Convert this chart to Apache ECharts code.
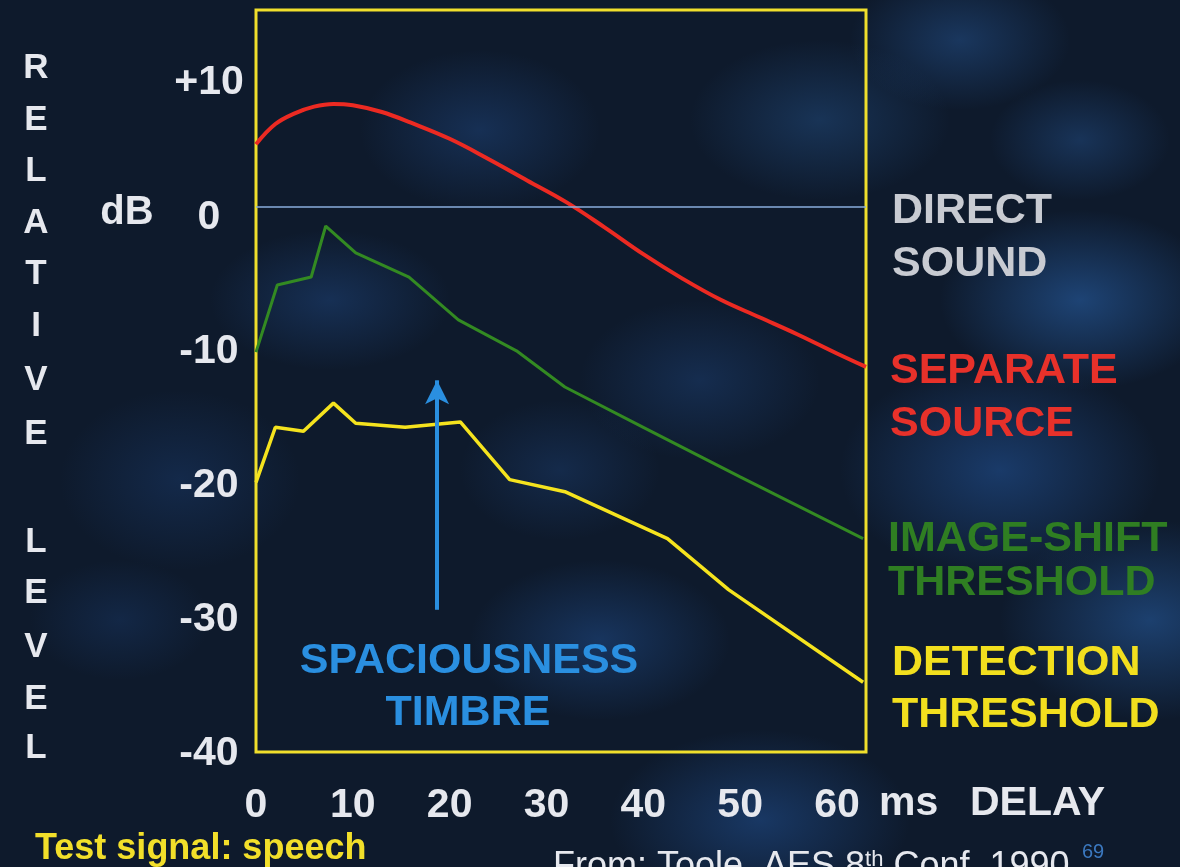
<!DOCTYPE html>
<html>
<head>
<meta charset="utf-8">
<script src="https://cdn.jsdelivr.net/npm/echarts@6/dist/echarts.min.js"></script>
<style>
html,body{margin:0;padding:0;}
#c{width:1180px;height:867px;
background:
radial-gradient(ellipse 140px 90px at 1080px 300px, rgba(40,95,165,0.6), rgba(40,95,165,0) 100%),
radial-gradient(ellipse 160px 110px at 1000px 470px, rgba(35,85,155,0.55), rgba(35,85,155,0) 100%),
radial-gradient(ellipse 150px 100px at 1150px 620px, rgba(40,95,165,0.55), rgba(40,95,165,0) 100%),
radial-gradient(ellipse 110px 70px at 960px 40px, rgba(40,90,155,0.45), rgba(40,90,155,0) 100%),
radial-gradient(ellipse 90px 60px at 1080px 140px, rgba(40,90,155,0.4), rgba(40,90,155,0) 100%),
radial-gradient(ellipse 130px 80px at 820px 120px, rgba(40,90,150,0.4), rgba(40,90,150,0) 100%),
radial-gradient(ellipse 120px 80px at 480px 130px, rgba(35,80,145,0.4), rgba(35,80,145,0) 100%),
radial-gradient(ellipse 130px 80px at 600px 640px, rgba(35,85,155,0.45), rgba(35,85,155,0) 100%),
radial-gradient(ellipse 120px 70px at 330px 300px, rgba(35,80,145,0.4), rgba(35,80,145,0) 100%),
radial-gradient(ellipse 120px 90px at 180px 480px, rgba(30,70,130,0.35), rgba(30,70,130,0) 100%),
radial-gradient(ellipse 150px 90px at 760px 820px, rgba(35,85,155,0.5), rgba(35,85,155,0) 100%),
radial-gradient(ellipse 120px 80px at 700px 380px, rgba(35,80,145,0.35), rgba(35,80,145,0) 100%),
radial-gradient(ellipse 100px 70px at 560px 470px, rgba(35,80,145,0.3), rgba(35,80,145,0) 100%),
radial-gradient(ellipse 90px 60px at 120px 620px, rgba(30,70,130,0.3), rgba(30,70,130,0) 100%),
#0e1a2c;}
</style>
</head>
<body>
<div id="c"></div>
<script>
// ---- data ----
var xTicks = [0, 10, 20, 30, 40, 50, 60];
var yTicks = [-40, -30, -20, -10, 0, 10];

var sepX = [0, 2, 4, 6, 8, 10, 13, 16, 20, 24, 28, 32, 36, 40, 44, 48, 52, 56, 60, 63];
var sepY = [4.7, 6.2, 7.0, 7.5, 7.7, 7.6, 7.1, 6.3, 5.1, 3.6, 2.0, 0.4, -1.5, -3.5, -5.3, -6.9, -8.2, -9.5, -10.9, -11.9];

var imgX = [0, 2.2, 5.7, 7.2, 10.3, 15.8, 20.9, 26.9, 31.9, 40, 50, 62.7];
var imgY = [-10.8, -5.8, -5.2, -1.4, -3.4, -5.2, -8.4, -10.7, -13.4, -16.4, -20.1, -24.7];

var detX = [0, 2.0, 4.9, 8.0, 10.3, 15.4, 21.1, 26.2, 31.9, 42.5, 48.8, 62.7];
var detY = [-20.5, -16.4, -16.7, -14.6, -16.1, -16.4, -16.0, -20.3, -21.2, -24.7, -28.5, -35.4];

var arrowX = 18.7;
var arrowFrom = -30.0;
var arrowTo = -12.9;

function pairs(xs, ys) { return xs.map(function (x, i) { return [x, ys[i]]; }); }

var FONT = '"Liberation Sans", Arial, sans-serif';
var chart = echarts.init(document.getElementById('c'), null, {renderer: 'canvas'});

var leftLetters = ['R','E','L','A','T','I','V','E','L','E','V','E','L'];
var leftYs = [68, 120, 171, 223, 274, 326, 380, 434, 542, 593, 647, 699, 748];

var graphics = [];
leftLetters.forEach(function (ch, i) {
  graphics.push({type: 'text', x: 36, y: leftYs[i], style: {text: ch, fill: '#e6e8ee', font: 'bold 35px ' + FONT, align: 'center', verticalAlign: 'middle'}});
});
function txt(t, x, y, color, size, align, weight) {
  graphics.push({type: 'text', x: x, y: y, style: {text: t, fill: color, font: (weight || 'bold') + ' ' + size + 'px ' + FONT, align: align || 'left', verticalAlign: 'middle'}});
}
txt('dB', 127, 213, '#e6e8ee', 40, 'center');
txt('ms', 879, 804, '#e6e8ee', 41, 'left');
txt('DELAY', 970, 804, '#e6e8ee', 41, 'left');
txt('DIRECT', 892, 211, '#c8cbd2', 43);
txt('SOUND', 892, 264, '#c8cbd2', 43);
txt('SEPARATE', 890, 371, '#e8312a', 43);
txt('SOURCE', 890, 424, '#e8312a', 43);
txt('IMAGE-SHIFT', 888, 539, '#2f7e22', 43);
txt('THRESHOLD', 888, 583, '#2f7e22', 43);
txt('DETECTION', 892, 663, '#f2df1e', 43);
txt('THRESHOLD', 892, 715, '#f2df1e', 43);
txt('SPACIOUSNESS', 469, 661, '#2a8fe0', 43, 'center');
txt('TIMBRE', 468, 713, '#2a8fe0', 43, 'center');
txt('Test signal: speech', 35, 849, '#f2df2a', 36, 'left');
graphics.push({type: 'text', x: 553, y: 867, style: {
  text: 'From: Toole, AES 8{sup|th} Conf. 1990',
  fill: '#e6e8ee', font: '36px ' + FONT, align: 'left', verticalAlign: 'middle',
  rich: {sup: {fontSize: 22, fill: '#e6e8ee', fontFamily: FONT, verticalAlign: 'top', padding: [0, 0, 14, 0]}}
}});
txt('69', 1093, 852, '#3b78bf', 20, 'center', 'normal');

var option = {
  backgroundColor: 'transparent',
  animation: false,
  textStyle: {fontFamily: FONT},
  grid: {left: 256, right: 314, top: 10, bottom: 115, show: true, borderColor: '#f0df2c', borderWidth: 3, backgroundColor: 'transparent'},
  xAxis: {
    type: 'value', min: 0, max: 63,
    axisLine: {show: false}, axisTick: {show: false}, splitLine: {show: false},
    axisLabel: {customValues: xTicks, color: '#e6e8ee', fontSize: 41, fontWeight: 'bold', fontFamily: FONT, margin: 54, verticalAlign: 'middle'}
  },
  yAxis: {
    type: 'value', min: -40.6, max: 14.7,
    axisLine: {show: false}, axisTick: {show: false}, splitLine: {show: false},
    axisLabel: {customValues: yTicks, color: '#e6e8ee', fontSize: 41, fontWeight: 'bold', fontFamily: FONT, margin: 47, align: 'center', verticalAlign: 'middle',
      formatter: function (v) { return '{a|' + (v > 0 ? '+' + v : String(v)) + '}'; },
      rich: {a: {color: '#e6e8ee', fontSize: 41, fontWeight: 'bold', fontFamily: FONT, padding: [20, 0, 0, 0]}}}
  },
  series: [
    {
      name: 'DIRECT SOUND', type: 'line', data: [], silent: true,
      markLine: {silent: true, symbol: ['none', 'none'], label: {show: false},
        lineStyle: {color: '#8aaedc', width: 1.5, type: 'solid'},
        data: [{yAxis: 0}]}
    },
    {
      name: 'SEPARATE SOURCE', type: 'line', data: pairs(sepX, sepY), smooth: 0.4, showSymbol: false,
      lineStyle: {color: '#ec2a22', width: 4}
    },
    {
      name: 'IMAGE-SHIFT THRESHOLD', type: 'line', data: pairs(imgX, imgY), showSymbol: false,
      lineStyle: {color: '#338a22', width: 3}
    },
    {
      name: 'DETECTION THRESHOLD', type: 'line', data: pairs(detX, detY), showSymbol: false,
      lineStyle: {color: '#f5e31e', width: 3.5}
    },
    {
      name: 'arrow', type: 'line', data: [], silent: true,
      markLine: {silent: true, symbol: ['none', 'arrow'], symbolSize: [18, 24], label: {show: false},
        lineStyle: {color: '#2a8fe0', width: 4, type: 'solid'},
        data: [[{coord: [arrowX, arrowFrom]}, {coord: [arrowX, arrowTo]}]]}
    }
  ],
  graphic: graphics
};
chart.setOption(option);
</script>
</body>
</html>
